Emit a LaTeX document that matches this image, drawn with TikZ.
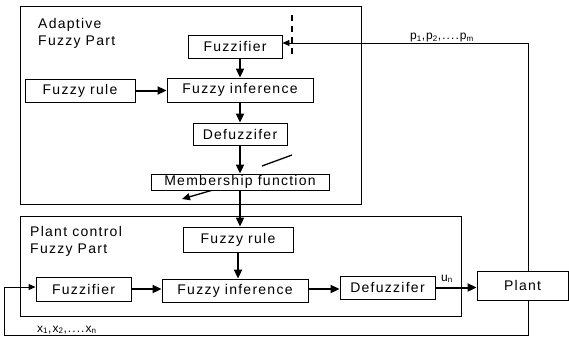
\documentclass[tikz,border=0pt]{standalone}
\usepackage{fontspec}
\setmainfont{Liberation Sans}[LetterSpace=9]
\usetikzlibrary{arrows.meta}
\begin{document}
\begin{tikzpicture}[x=1pt,y=-1pt,
  blk/.style={draw,line width=0.9pt,fill=white,inner sep=0pt,font=\fontsize{14}{16}\selectfont},
  frame/.style={draw,line width=0.9pt},
  flow/.style={line width=2pt,-{Triangle[length=9pt,width=8pt]}},
  fbarrow/.style={line width=0.9pt,-{Triangle[length=7pt,width=6pt]}},
  lbl/.style={inner sep=0pt,font=\fontsize{14}{17}\selectfont,align=left},
  sig/.style={inner sep=0pt,font=\fontsize{12}{13}\selectfont}]
\useasboundingbox (0,0) rectangle (569,337);
% frames
\draw[frame] (20,6) rectangle (361,204);
\draw[frame] (20,216) rectangle (461,316);
\node[lbl,anchor=north west] (t1) at (38,18) {Adaptive\\Fuzzy Part};
\node[lbl,anchor=north west] (t2) at (30,226) {Plant control\\Fuzzy Part};
% adjustment arrow behind membership box
\coordinate (d1) at (292,155);
\coordinate (d2) at (262,166);
\coordinate (d3) at (213,190);
\coordinate (d4) at (182,199);
\draw[line width=1.3pt] (d1) -- (d2);
\draw[line width=1.3pt,-{Triangle[length=8pt,width=7pt]}] (d3) -- (d4);
% top blocks
\node[blk,minimum width=94pt,minimum height=23pt] (fz1) at (235,46.5) {Fuzzifier};
\node[blk,minimum width=110pt,minimum height=23pt] (fr1) at (80,90.5) {Fuzzy rule};
\node[blk,minimum width=146pt,minimum height=24pt] (fi1) at (240,90) {Fuzzy inference};
\node[blk,minimum width=94pt,minimum height=22pt] (df1) at (240,134) {Defuzzifer};
\node[blk,minimum width=178pt,minimum height=16pt] (mf) at (240,182) {Membership function};
% bottom blocks
\node[blk,minimum width=110pt,minimum height=25pt] (fr2) at (238,239.5) {Fuzzy rule};
\node[blk,minimum width=95pt,minimum height=24pt] (fz2) at (83.5,289) {Fuzzifier};
\node[blk,minimum width=146pt,minimum height=23pt] (fi2) at (235,290.5) {Fuzzy inference};
\node[blk,minimum width=95pt,minimum height=23pt] (df2) at (387.5,287.5) {Defuzzifer};
\node[blk,minimum width=91pt,minimum height=29pt] (plant) at (522.5,285.5) {Plant};
% flows
\draw[flow] (fi1.north |- fz1.south) -- (fi1.north);
\draw[flow] (fr1.east) -- (fi1.west |- fr1.east);
\draw[flow] (df1.north |- fi1.south) -- (df1.north);
\draw[flow] (df1.south) -- (mf.north);
\draw[flow] (mf.south) -- (fr2.north -| mf.south);
\draw[flow] (fr2.south) -- (fi2.north -| fr2.south);
\draw[flow] (fz2.east) -- (fi2.west |- fz2.east);
\draw[flow] (fi2.east |- 0,289) -- (df2.west |- 0,289);
\draw[flow] (df2.east) -- (plant.west |- df2.east);
\node[sig,anchor=south west] (un) at (441,283) {u\textsubscript{n}};
% feedback paths
\coordinate (pc) at (528,43);
\coordinate (bc) at (528,335);
\coordinate (lc) at (4,335);
\coordinate (lu) at (4,287);
\draw[fbarrow] (plant.north -| pc) -- (pc) -- (fz1.east |- pc);
\draw[fbarrow] (plant.south -| bc) -- (bc) -- (lc) -- (lu) -- (fz2.west |- lu);
\node[sig,anchor=south west] (pl) at (410,42) {p\textsubscript{1},p\textsubscript{2},....p\textsubscript{m}};
\node[sig,anchor=south west] (xl) at (37,334) {x\textsubscript{1},x\textsubscript{2},....x\textsubscript{n}};
% dashed marker
\coordinate (ds) at (292,15);
\coordinate (de) at (292,55);
\draw[line width=2.5pt,dash pattern=on 6pt off 5pt] (ds) -- (de);
\end{tikzpicture}
\end{document}
